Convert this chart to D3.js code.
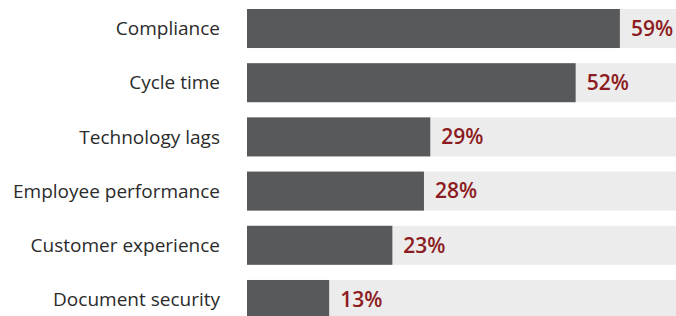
<!DOCTYPE html>
<html lang="en">
<head>
<meta charset="UTF-8">
<title>Bar chart</title>
<style>
  * { margin: 0; padding: 0; box-sizing: border-box; }
  body { background: #fff; overflow: hidden; }
  svg { display: block; }
  .cat { font-family: 'Open Sans', sans-serif; font-size: 19px; fill: #2b2b2b; }
  .val { font-family: 'Open Sans', sans-serif; font-size: 21px; font-weight: 600; fill: #8c1c22; }
</style>
</head>
<body>
<svg width="676" height="316"></svg>
<script src="https://d3js.org/d3.v7.min.js"></script>
<script>
const categories = ['Compliance', 'Cycle time', 'Technology lags', 'Employee performance', 'Customer experience', 'Document security'];
const values = [59, 52, 29, 28, 23, 13];

const width = 676, height = 316;
const svg = d3.select('svg');

// x: percent -> pixels, track runs past the right edge and gets clipped
const x = d3.scaleLinear().domain([0, 100]).range([247, 879]);
const y = d3.scaleBand().domain(categories).range([9, 319]).paddingInner(0.28).paddingOuter(0);

const rows = svg.append('g').selectAll('g')
  .data(categories.map((c, i) => ({ cat: c, val: values[i] })))
  .enter().append('g');

// background track
rows.append('rect')
  .attr('x', x(0))
  .attr('y', d => y(d.cat))
  .attr('width', x(100) - x(0))
  .attr('height', y.bandwidth())
  .attr('fill', '#ececec');

// value bar
rows.append('rect')
  .attr('x', x(0))
  .attr('y', d => y(d.cat))
  .attr('width', d => x(d.val) - x(0))
  .attr('height', y.bandwidth())
  .attr('fill', '#58595b');

rows.append('text')
  .attr('class', 'cat')
  .attr('x', 220)
  .attr('y', d => y(d.cat) + y.bandwidth() / 2)
  .attr('dy', '0.35em')
  .attr('text-anchor', 'end')
  .text(d => d.cat);

rows.append('text')
  .attr('class', 'val')
  .attr('x', d => x(d.val) + 11)
  .attr('y', d => y(d.cat) + y.bandwidth() / 2)
  .attr('dy', '0.35em')
  .text(d => d.val + '%');
</script>
</body>
</html>
